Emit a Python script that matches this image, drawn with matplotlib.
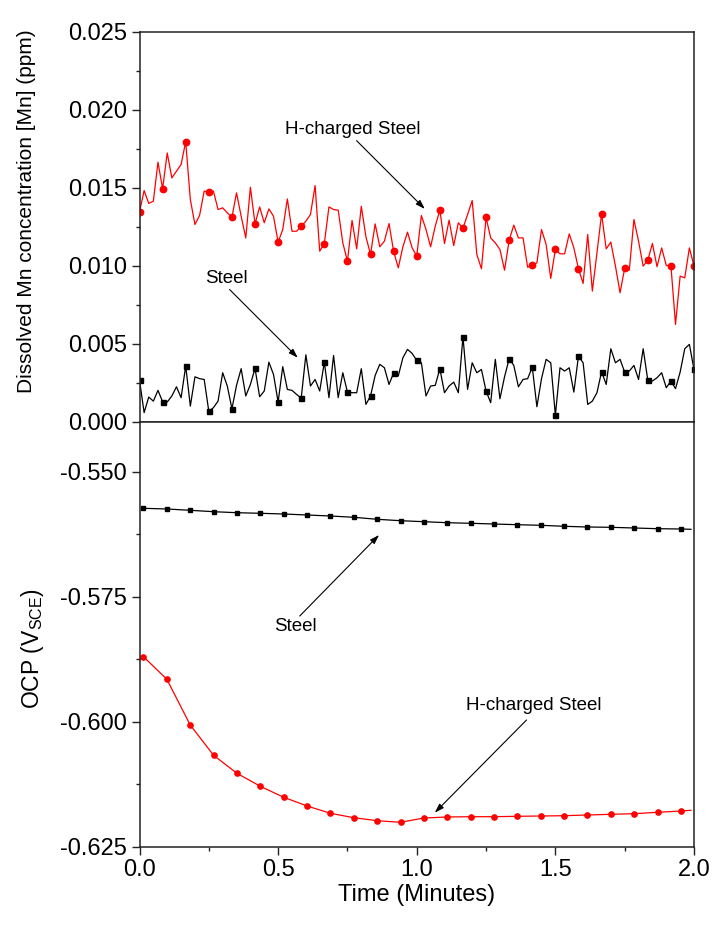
import numpy as np
import matplotlib
matplotlib.use('Agg')
import matplotlib.pyplot as plt
from matplotlib.ticker import MultipleLocator, FormatStrFormatter

plt.rcParams['font.family'] = ['Liberation Sans', 'DejaVu Sans']
plt.rcParams['axes.unicode_minus'] = False
plt.rcParams['mathtext.fontset'] = 'custom'
plt.rcParams['mathtext.rm'] = 'Liberation Sans'
plt.rcParams['mathtext.it'] = 'Liberation Sans:italic'

# ---------------- data ----------------
# dissolved Mn, sampled once per second for 2 minutes
time_mn = np.arange(121) / 60.0

mn_h_charged = [
    0.01344, 0.01483, 0.01400, 0.01415, 0.01665, 0.01494, 0.01724, 0.01564, 0.01607, 0.01650,
    0.01797, 0.01425, 0.01265, 0.01323, 0.01479, 0.01472, 0.01479, 0.01361, 0.01372, 0.01340,
    0.01312, 0.01468, 0.01318, 0.01179, 0.01504, 0.01269, 0.01378, 0.01276, 0.01365, 0.01318,
    0.01152, 0.01233, 0.01429, 0.01222, 0.01222, 0.01254, 0.01286, 0.01329, 0.01515, 0.01094,
    0.01143, 0.01378, 0.01361, 0.01357, 0.01147, 0.01030, 0.01291, 0.01109, 0.01382, 0.01186,
    0.01073, 0.01269, 0.01122, 0.01158, 0.01271, 0.01092, 0.00987, 0.01122, 0.01216, 0.01115,
    0.01062, 0.01323, 0.01233, 0.01122, 0.01254, 0.01357, 0.01143, 0.01293, 0.01130, 0.01276,
    0.01241, 0.01329, 0.01419, 0.01073, 0.00981, 0.01310, 0.01179, 0.01147, 0.01105, 0.00972,
    0.01165, 0.01261, 0.01179, 0.01179, 0.00991, 0.01004, 0.01019, 0.01233, 0.01137, 0.00919,
    0.01105, 0.01077, 0.01077, 0.01205, 0.01115, 0.00981, 0.00887, 0.01201, 0.00838, 0.01083,
    0.01333, 0.01109, 0.01152, 0.00998, 0.00827, 0.00985, 0.00972, 0.01297, 0.01158, 0.00998,
    0.01036, 0.01143, 0.00994, 0.01115, 0.01002, 0.01002, 0.00624, 0.00934, 0.00923, 0.01115,
    0.00998,
]

mn_steel = [
    0.00267, 0.00058, 0.00158, 0.00132, 0.00201, 0.00128, 0.00126, 0.00165, 0.00224, 0.00154,
    0.00357, 0.00100, 0.00288, 0.00276, 0.00271, 0.00066, 0.00090, 0.00132, 0.00314, 0.00229,
    0.00083, 0.00233, 0.00340, 0.00165, 0.00239, 0.00342, 0.00160, 0.00197, 0.00382, 0.00303,
    0.00126, 0.00353, 0.00207, 0.00201, 0.00175, 0.00152, 0.00429, 0.00229, 0.00271, 0.00197,
    0.00382, 0.00154, 0.00425, 0.00154, 0.00314, 0.00190, 0.00186, 0.00186, 0.00340, 0.00111,
    0.00165, 0.00297, 0.00368, 0.00346, 0.00239, 0.00314, 0.00293, 0.00410, 0.00464, 0.00438,
    0.00393, 0.00378, 0.00165, 0.00229, 0.00233, 0.00340, 0.00186, 0.00229, 0.00254, 0.00186,
    0.00545, 0.00207, 0.00378, 0.00314, 0.00335, 0.00197, 0.00122, 0.00400, 0.00147, 0.00288,
    0.00404, 0.00361, 0.00224, 0.00271, 0.00276, 0.00350, 0.00096, 0.00276, 0.00400, 0.00378,
    0.00041, 0.00346, 0.00325, 0.00346, 0.00190, 0.00421, 0.00378, 0.00111, 0.00132, 0.00186,
    0.00321, 0.00239, 0.00468, 0.00378, 0.00400, 0.00318, 0.00325, 0.00361, 0.00271, 0.00468,
    0.00267, 0.00261, 0.00282, 0.00314, 0.00218, 0.00261, 0.00212, 0.00318, 0.00468, 0.00496,
    0.00335,
]

# open circuit potential (V vs SCE)
time_ocp = np.append(np.linspace(0.0144, 1.953, 24), 1.989)

ocp_steel = [
    -0.55732, -0.55746, -0.55772, -0.55800, -0.55820, -0.55832, -0.55846, -0.55866,
    -0.55886, -0.55912, -0.55952, -0.55980, -0.56000, -0.56020, -0.56032, -0.56046,
    -0.56060, -0.56072, -0.56092, -0.56106, -0.56112, -0.56126, -0.56140, -0.56146,
    -0.56152,
]

ocp_h_charged = [
    -0.58700, -0.59152, -0.60066, -0.60672, -0.61032, -0.61292, -0.61512, -0.61686,
    -0.61832, -0.61920, -0.61980, -0.62012, -0.61926, -0.61906, -0.61900, -0.61900,
    -0.61892, -0.61886, -0.61880, -0.61866, -0.61852, -0.61840, -0.61812, -0.61786,
    -0.61772,
]

x_ticks = [0.0, 0.5, 1.0, 1.5, 2.0]

RED = '#ff0000'
BLACK = '#000000'
SPINE = '#222222'

# ---------------- figure ----------------
fig = plt.figure(figsize=(7.12, 9.26), dpi=100)
L, W = 139.5 / 712, (694 - 139.5) / 712
y_mid = (926 - 421.7) / 926
y_bot = (926 - 846.7) / 926
y_top = (926 - 32) / 926
ax1 = fig.add_axes([L, y_mid, W, y_top - y_mid])
ax2 = fig.add_axes([L, y_bot, W, y_mid - y_bot])

# top panel
ax1.plot(time_mn, mn_h_charged, color=RED, lw=0.9, marker='o', ms=4.6,
         markevery=5, mec=RED, mfc=RED)
ax1.plot(time_mn, mn_steel, color=BLACK, lw=0.9, marker='s', ms=3.6,
         markevery=5, mec=BLACK, mfc=BLACK)
ax1.set_xlim(0, 2.0)
ax1.set_ylim(0, 0.025)
ax1.yaxis.set_major_locator(MultipleLocator(0.005))
ax1.yaxis.set_minor_locator(MultipleLocator(0.0025))
ax1.yaxis.set_major_formatter(FormatStrFormatter('%.3f'))
ax1.tick_params(axis='x', which='both', bottom=False, top=False, labelbottom=False)

# bottom panel
ax2.plot(time_ocp, ocp_steel, color=BLACK, lw=0.9, marker='s', ms=3.0,
         markevery=list(range(24)), mec=BLACK, mfc=BLACK)
ax2.plot(time_ocp, ocp_h_charged, color=RED, lw=0.9, marker='o', ms=3.8,
         markevery=list(range(24)), mec=RED, mfc=RED)
ax2.set_xlim(0, 2.0)
ax2.set_ylim(-0.625, -0.540)
ax2.set_yticks([-0.625, -0.600, -0.575, -0.550])
ax2.yaxis.set_minor_locator(MultipleLocator(0.0125))
ax2.yaxis.set_major_formatter(FormatStrFormatter('%.3f'))
ax2.set_xticks(x_ticks)
ax2.xaxis.set_minor_locator(MultipleLocator(0.25))
ax2.xaxis.set_major_formatter(FormatStrFormatter('%.1f'))

for ax in (ax1, ax2):
    for s in ax.spines.values():
        s.set_linewidth(1.1)
        s.set_color(SPINE)
    ax.tick_params(axis='both', which='major', direction='out', length=5.5,
                   width=1.0, labelsize=17, color=SPINE, pad=3.5,
                   right=False, top=False)
    ax.tick_params(axis='both', which='minor', direction='out', length=3.0,
                   width=1.0, color=SPINE, right=False, top=False)
ax1.tick_params(axis='x', which='both', bottom=False)

# labels
ax1.set_ylabel('Dissolved Mn concentration [Mn] (ppm)', fontsize=15)
ax1.yaxis.set_label_coords(-0.186, 0.54)
ax2.set_ylabel(r'OCP (V$_{\mathregular{SCE}}$)', fontsize=16.5)
ax2.yaxis.set_label_coords(-0.168, 0.465)
ax2.set_xlabel('Time (Minutes)', fontsize=17)
ax2.xaxis.set_label_coords(0.5, -0.088)

arrow = dict(arrowstyle='-|>,head_length=0.55,head_width=0.18', color='black',
             lw=0.8, shrinkA=0, shrinkB=0)

# annotations top
ax1.text(0.769, 0.01873, 'H-charged Steel', fontsize=13.5, ha='center', va='center')
ax1.annotate('', xy=(1.029, 0.01365), xytext=(0.783, 0.01803), arrowprops=arrow)
ax1.text(0.312, 0.00917, 'Steel', fontsize=13.5, ha='center', va='center')
ax1.annotate('', xy=(0.571, 0.0041), xytext=(0.325, 0.00848), arrowprops=arrow)

# annotations bottom
ax2.text(0.561, -0.5810, 'Steel', fontsize=13.5, ha='center', va='center')
ax2.annotate('', xy=(0.864, -0.56266), xytext=(0.578, -0.57886), arrowprops=arrow)
ax2.text(1.422, -0.59666, 'H-charged Steel', fontsize=13.5, ha='center', va='center')
ax2.annotate('', xy=(1.065, -0.6182), xytext=(1.396, -0.59966), arrowprops=arrow)

fig.savefig('out.png', dpi=100)
